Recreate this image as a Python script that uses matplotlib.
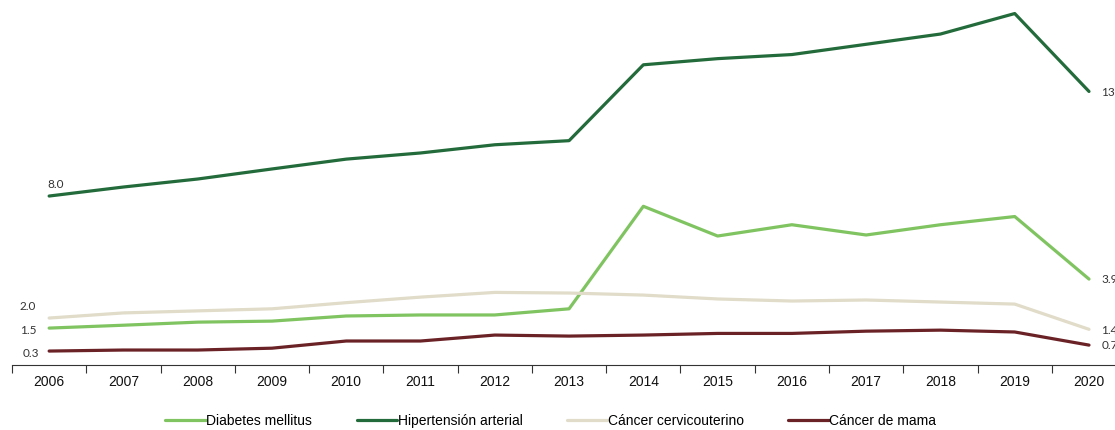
import matplotlib
matplotlib.use("Agg")
import matplotlib.pyplot as plt
from matplotlib.ticker import FixedLocator

years = ["2006", "2007", "2008", "2009", "2010", "2011", "2012", "2013",
         "2014", "2015", "2016", "2017", "2018", "2019", "2020"]
diabetes = [1.56, 1.70, 1.85, 1.90, 2.15, 2.20, 2.20, 2.50, 7.50, 6.05, 6.60, 6.10, 6.60, 7.00, 3.95]
hipertension = [8.0, 8.44, 8.83, 9.32, 9.80, 10.1, 10.5, 10.7, 14.4, 14.7, 14.9, 15.4, 15.9, 16.9, 13.1]
cervico = [2.05, 2.30, 2.40, 2.50, 2.80, 3.07, 3.30, 3.27, 3.17, 2.98, 2.88, 2.93, 2.83, 2.73, 1.50]
mama = [0.44, 0.49, 0.49, 0.58, 0.93, 0.93, 1.22, 1.17, 1.22, 1.30, 1.30, 1.41, 1.46, 1.37, 0.73]
series_names = ["Diabetes mellitus", "Hipertensión arterial", "Cáncer cervicouterino", "Cáncer de mama"]
start_labels = ["1.5", "8.0", "2.0", "0.3"]
end_labels = ["3.9", "13.1", "1.4", "0.7"]

colors = ["#80c461", "#236b3b", "#e0dcc9", "#6b2226"]
data = [diabetes, hipertension, cervico, mama]

fig = plt.figure(figsize=(11.15, 4.30), dpi=100)
ax = fig.add_axes([12/1115, 65/430, 1103/1115, 365/430])
x = list(range(len(years)))
handles = []
for name, vals, c in zip(series_names, data, colors):
    h, = ax.plot(x, vals, color=c, lw=2.3, solid_capstyle="round", solid_joinstyle="round", label=name)
    handles.append(h)

ax.set_xlim(-0.5, 14.35)
ax.set_ylim(-0.24, 17.56)
for s in ["top", "right", "left"]:
    ax.spines[s].set_visible(False)
ax.spines["bottom"].set_color("#333333")
ax.spines["bottom"].set_linewidth(0.8)
ax.set_yticks([])
ax.set_xticks(x)
ax.set_xticklabels(years, fontsize=10, family="Liberation Sans", color="#111111")
ax.tick_params(axis="x", which="major", length=0, pad=7)
ax.xaxis.set_minor_locator(FixedLocator([i - 0.5 for i in range(len(years))]))
ax.tick_params(axis="x", which="minor", length=6, color="#333333", width=0.8)

lab_font = dict(family="Lato", fontsize=8.5, color="#333333")
# start labels
ax.annotate(start_labels[1], (0, hipertension[0]), xytext=(-1.5, 4), textcoords="offset points", ha="left", va="bottom", **lab_font)
ax.annotate(start_labels[2], (0, cervico[0]), xytext=(-21, 4), textcoords="offset points", ha="left", va="bottom", **lab_font)
ax.annotate(start_labels[0], (0, diabetes[0]), xytext=(-21, -2), textcoords="offset points", ha="left", va="center", **lab_font)
ax.annotate(start_labels[3], (0, mama[0]), xytext=(-19, -1.5), textcoords="offset points", ha="left", va="center", **lab_font)
# end labels
for vals, lab in zip(data, end_labels):
    ax.annotate(lab, (14, vals[-1]), xytext=(9, -0.5), textcoords="offset points", ha="left", va="center", **lab_font)

fig.legend(handles=handles, loc="center", bbox_to_anchor=(0.494, 1 - 421/430), ncol=4,
           frameon=False, prop={"family": "Liberation Sans", "size": 10},
           handlelength=2.9, handletextpad=0.05, columnspacing=3.2)

fig.savefig("out.png", dpi=100)
